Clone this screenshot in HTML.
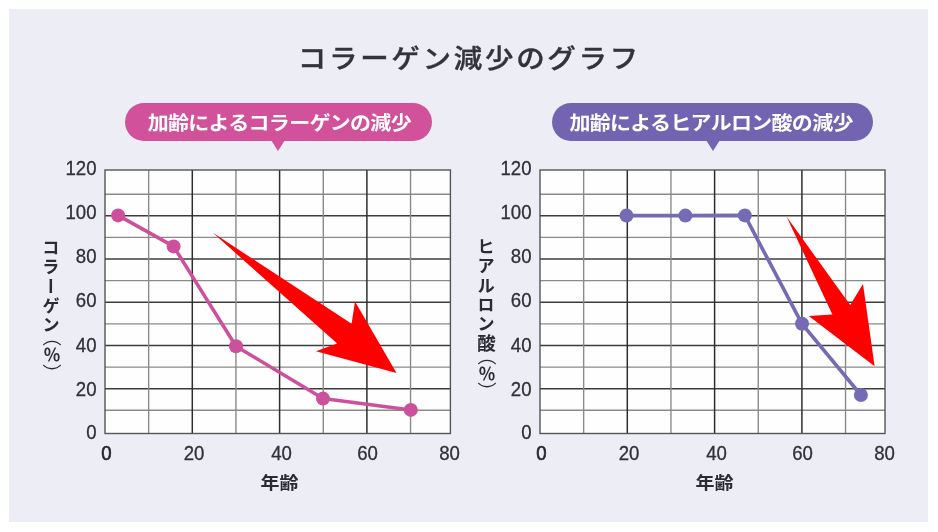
<!DOCTYPE html>
<html lang="ja"><head><meta charset="utf-8"><title>コラーゲン減少のグラフ</title>
<style>
html,body{margin:0;padding:0;background:#fff;}
body{width:938px;height:532px;position:relative;overflow:hidden;font-family:"Liberation Sans","Noto Sans CJK JP",sans-serif;color:#2f2f38;}
.panel{position:absolute;left:9px;top:9px;width:919px;height:513px;background:#ededf6;}
svg{position:absolute;left:0;top:0;}
h1{position:absolute;left:-1px;top:38.5px;width:938px;margin:0;text-align:center;font-family:"Liberation Sans","Noto Sans CJK JP",sans-serif;font-weight:500;font-size:28.5px;line-height:40px;letter-spacing:2.7px;color:#33333b;-webkit-text-stroke:0.4px #33333b;white-space:nowrap;text-indent:2.7px;transform:scaleY(0.92);transform-origin:50% 50%;}
.pill{position:absolute;top:102.8px;height:38px;border-radius:19px;color:#fff;font-family:"Liberation Sans","Noto Sans CJK JP",sans-serif;font-weight:700;font-size:21px;line-height:41px;text-align:center;letter-spacing:-0.7px;white-space:nowrap;}
.pill span{display:inline-block;transform:scaleY(0.9);transform-origin:50% 50%;}
.pill:after{content:"";position:absolute;top:37.5px;width:0;height:0;border-left:7px solid transparent;border-right:7px solid transparent;border-top:11px solid;}
.p1{left:124.5px;width:307.6px;background:#d1519a;}
.p1 span{position:relative;left:1px;}
.p2 span{position:relative;left:-1.4px;}
.p1:after{left:146px;border-top-color:#d1519a;}
.p2{left:552.3px;width:320.3px;background:#7364b1;}
.p2:after{left:153.3px;border-top-color:#7364b1;}
.yl{position:absolute;width:60px;text-align:right;font-size:18.6px;line-height:22px;height:22px;color:#30303a;}
.xl{position:absolute;width:60px;text-align:center;font-size:18.6px;line-height:22px;height:22px;color:#30303a;}
.yl,.xl{transform:scaleY(1.04);-webkit-text-stroke:0.3px #30303a;}
.xl.b{-webkit-text-stroke:0.6px #26262e;color:#26262e;}
.age{position:absolute;width:80px;text-align:center;font-family:"Liberation Sans","Noto Sans CJK JP",sans-serif;font-weight:700;font-size:19px;line-height:24px;top:472px;color:#2b2b33;}
.age span{display:inline-block;transform:scaleY(0.89);transform-origin:50% 50%;}
.vt{position:absolute;writing-mode:vertical-rl;font-family:"Liberation Sans","Noto Sans CJK JP",sans-serif;font-weight:700;font-size:17.5px;line-height:24px;width:24px;white-space:nowrap;color:#2b2b33;letter-spacing:1.6px;}
.vt .k{font-size:18.5px;letter-spacing:0.6px;}
.vt .pa{font-weight:400;}
.vt .po{margin-top:-7px;letter-spacing:0;font-size:19px;}
.vt .pc{margin-top:0.5px;letter-spacing:0;font-size:19px;}
.vt .pp{font-weight:700;font-size:17px;margin-top:0px;letter-spacing:0;}
</style></head><body>
<div class="panel"></div>
<svg width="938" height="532" viewBox="0 0 938 532">
<rect x="105" y="170" width="345.4" height="263.5" fill="#fefefe"/>
<line x1="105" y1="194.20" x2="450.4" y2="194.20" stroke="#8a8a86" stroke-width="1.4"/>
<line x1="105" y1="215.81" x2="450.4" y2="215.81" stroke="#3c3c3c" stroke-width="1.5"/>
<line x1="105" y1="237.42" x2="450.4" y2="237.42" stroke="#8a8a86" stroke-width="1.4"/>
<line x1="105" y1="259.03" x2="450.4" y2="259.03" stroke="#3c3c3c" stroke-width="1.5"/>
<line x1="105" y1="280.64" x2="450.4" y2="280.64" stroke="#8a8a86" stroke-width="1.4"/>
<line x1="105" y1="302.25" x2="450.4" y2="302.25" stroke="#3c3c3c" stroke-width="1.5"/>
<line x1="105" y1="323.86" x2="450.4" y2="323.86" stroke="#8a8a86" stroke-width="1.4"/>
<line x1="105" y1="345.47" x2="450.4" y2="345.47" stroke="#3c3c3c" stroke-width="1.5"/>
<line x1="105" y1="367.08" x2="450.4" y2="367.08" stroke="#8a8a86" stroke-width="1.4"/>
<line x1="105" y1="388.69" x2="450.4" y2="388.69" stroke="#3c3c3c" stroke-width="1.5"/>
<line x1="105" y1="410.30" x2="450.4" y2="410.30" stroke="#8a8a86" stroke-width="1.4"/>
<line x1="148.65" y1="170" x2="148.65" y2="433.5" stroke="#8a8a8a" stroke-width="1.4"/>
<line x1="192.30" y1="170" x2="192.30" y2="433.5" stroke="#2e2e2e" stroke-width="1.5"/>
<line x1="235.95" y1="170" x2="235.95" y2="433.5" stroke="#8a8a8a" stroke-width="1.4"/>
<line x1="279.60" y1="170" x2="279.60" y2="433.5" stroke="#2e2e2e" stroke-width="1.5"/>
<line x1="323.25" y1="170" x2="323.25" y2="433.5" stroke="#8a8a8a" stroke-width="1.4"/>
<line x1="366.90" y1="170" x2="366.90" y2="433.5" stroke="#2e2e2e" stroke-width="1.5"/>
<line x1="410.55" y1="170" x2="410.55" y2="433.5" stroke="#8a8a8a" stroke-width="1.4"/>
<rect x="105" y="170" width="345.4" height="263.5" fill="none" stroke="#555" stroke-width="1.4"/>
<polygon fill="#ff0000" points="212.6,232.6 351.6,323.8 355,301.5 396.5,372.9 316,351.3 337.2,343.5"/>
<polyline fill="none" stroke="#cd509c" stroke-width="3.5" stroke-linejoin="round" points="118.1,215.4 173.6,246.4 236,346.2 323,398.6 410.8,409.9"/>
<circle cx="118.1" cy="215.4" r="7" fill="#cd509c"/>
<circle cx="173.6" cy="246.4" r="7" fill="#cd509c"/>
<circle cx="236" cy="346.2" r="7" fill="#cd509c"/>
<circle cx="323" cy="398.6" r="7" fill="#cd509c"/>
<circle cx="410.8" cy="409.9" r="7" fill="#cd509c"/>
<rect x="540" y="170" width="345.0" height="263.5" fill="#fefefe"/>
<line x1="540" y1="194.20" x2="885.0" y2="194.20" stroke="#8a8a86" stroke-width="1.4"/>
<line x1="540" y1="215.81" x2="885.0" y2="215.81" stroke="#3c3c3c" stroke-width="1.5"/>
<line x1="540" y1="237.42" x2="885.0" y2="237.42" stroke="#8a8a86" stroke-width="1.4"/>
<line x1="540" y1="259.03" x2="885.0" y2="259.03" stroke="#3c3c3c" stroke-width="1.5"/>
<line x1="540" y1="280.64" x2="885.0" y2="280.64" stroke="#8a8a86" stroke-width="1.4"/>
<line x1="540" y1="302.25" x2="885.0" y2="302.25" stroke="#3c3c3c" stroke-width="1.5"/>
<line x1="540" y1="323.86" x2="885.0" y2="323.86" stroke="#8a8a86" stroke-width="1.4"/>
<line x1="540" y1="345.47" x2="885.0" y2="345.47" stroke="#3c3c3c" stroke-width="1.5"/>
<line x1="540" y1="367.08" x2="885.0" y2="367.08" stroke="#8a8a86" stroke-width="1.4"/>
<line x1="540" y1="388.69" x2="885.0" y2="388.69" stroke="#3c3c3c" stroke-width="1.5"/>
<line x1="540" y1="410.30" x2="885.0" y2="410.30" stroke="#8a8a86" stroke-width="1.4"/>
<line x1="583.65" y1="170" x2="583.65" y2="433.5" stroke="#8a8a8a" stroke-width="1.4"/>
<line x1="627.30" y1="170" x2="627.30" y2="433.5" stroke="#2e2e2e" stroke-width="1.5"/>
<line x1="670.95" y1="170" x2="670.95" y2="433.5" stroke="#8a8a8a" stroke-width="1.4"/>
<line x1="714.60" y1="170" x2="714.60" y2="433.5" stroke="#2e2e2e" stroke-width="1.5"/>
<line x1="758.25" y1="170" x2="758.25" y2="433.5" stroke="#8a8a8a" stroke-width="1.4"/>
<line x1="801.90" y1="170" x2="801.90" y2="433.5" stroke="#2e2e2e" stroke-width="1.5"/>
<line x1="845.55" y1="170" x2="845.55" y2="433.5" stroke="#8a8a8a" stroke-width="1.4"/>
<rect x="540" y="170" width="345.0" height="263.5" fill="none" stroke="#555" stroke-width="1.4"/>
<polygon fill="#ff0000" points="786.5,216.6 850.2,305 863,284 874.6,366.2 808.8,316 832.4,314.6"/>
<polyline fill="none" stroke="#746bb4" stroke-width="3.6" stroke-linejoin="round" points="626.5,215.6 685.4,215.6 744.8,215.4 802,323.8 860.9,395"/>
<circle cx="626.5" cy="215.6" r="7" fill="#746bb4"/>
<circle cx="685.4" cy="215.6" r="7" fill="#746bb4"/>
<circle cx="744.8" cy="215.4" r="7" fill="#746bb4"/>
<circle cx="802" cy="323.8" r="7" fill="#746bb4"/>
<circle cx="860.9" cy="395" r="7" fill="#746bb4"/>
</svg>
<h1>コラーゲン減少のグラフ</h1>
<div class="pill p1"><span>加齢によるコラーゲンの減少</span></div>
<div class="pill p2"><span>加齢によるヒアルロン酸の減少</span></div>
<div class="yl" style="left:36.5px;top:157.7px">120</div>
<div class="yl" style="left:36.5px;top:202.1px">100</div>
<div class="yl" style="left:36.5px;top:245.8px">80</div>
<div class="yl" style="left:36.5px;top:290.4px">60</div>
<div class="yl" style="left:36.5px;top:334.6px">40</div>
<div class="yl" style="left:36.5px;top:378.7px">20</div>
<div class="yl" style="left:36.5px;top:422.2px">0</div>
<div class="yl" style="left:471.5px;top:157.7px">120</div>
<div class="yl" style="left:471.5px;top:202.1px">100</div>
<div class="yl" style="left:471.5px;top:245.8px">80</div>
<div class="yl" style="left:471.5px;top:290.4px">60</div>
<div class="yl" style="left:471.5px;top:334.6px">40</div>
<div class="yl" style="left:471.5px;top:378.7px">20</div>
<div class="yl" style="left:471.5px;top:422.2px">0</div>
<div class="xl b" style="left:76.3px;top:442.6px">0</div>
<div class="xl" style="left:164.0px;top:442.6px">20</div>
<div class="xl" style="left:251.5px;top:442.6px">40</div>
<div class="xl" style="left:337.6px;top:442.6px">60</div>
<div class="xl" style="left:419.5px;top:442.6px">80</div>
<div class="xl b" style="left:511.3px;top:442.6px">0</div>
<div class="xl" style="left:599.0px;top:442.6px">20</div>
<div class="xl" style="left:686.5px;top:442.6px">40</div>
<div class="xl" style="left:772.6px;top:442.6px">60</div>
<div class="xl" style="left:854.5px;top:442.6px">80</div>
<div class="age" style="left:239.5px"><span>年齢</span></div>
<div class="age" style="left:674.5px"><span>年齢</span></div>
<div class="vt" style="left:37.5px;top:238.5px">コラーゲン<span class="pa po">（</span><span class="pp">％</span><span class="pa pc">）</span></div>
<div class="vt" style="left:472.4px;top:238px">ヒアルロン<span class="k">酸</span><span class="pa po">（</span><span class="pp">％</span><span class="pa pc">）</span></div>
</body></html>
